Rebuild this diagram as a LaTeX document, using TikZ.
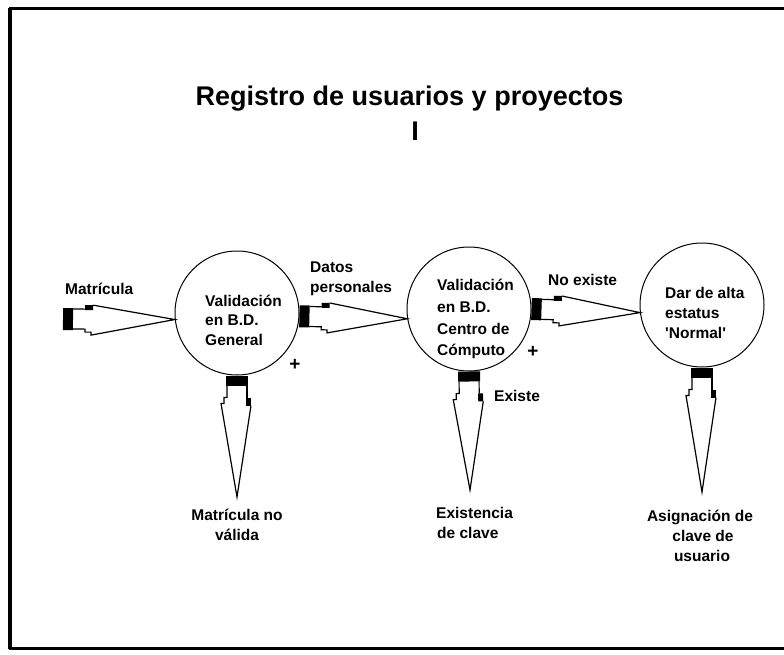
\documentclass[tikz,border=0pt]{standalone}
\usepackage{fontspec}
\setmainfont{Liberation Sans}[Ligatures=TeXOff]
\usetikzlibrary{calc}
\tikzset{
  proc/.style={circle, draw, line width=1pt, minimum size=124pt, inner sep=0pt},
  lbl/.style={font=\bfseries\fontsize{15.5}{20}\selectfont, inner sep=0pt},
  lblw/.style={lbl, anchor=base west},
  lblc/.style={lbl, anchor=base},
  plus/.style={font=\bfseries\fontsize{19}{20}\selectfont, inner sep=0pt},
  ttl/.style={font=\bfseries\fontsize{27}{32}\selectfont, inner sep=0pt, anchor=base},
  frameline/.style={line width=3pt},
  fatline/.style={line width=1.2pt, line join=miter},
}
\newcommand\fatarrow[2]{%
  \path let \p1=(#1), \p2=(#2) in \pgfextra{%
    \pgfmathsetmacro\fa{atan2(\y2-\y1,\x2-\x1)}%
    \pgfmathsetmacro\fl{veclen(\x2-\x1,\y2-\y1)}%
    \xdef\fA{\fa}\xdef\fL{\fl}\xdef\fX{\x1}\xdef\fY{\y1}};
  \begin{scope}[shift={(\fX,\fY)}, rotate=\fA]
    \fill (0pt,-11pt) rectangle (10pt,11pt);
    \fill (22pt,9pt) rectangle (30pt,14pt);
    \draw[fatline] (10pt,10pt) -- (22pt,10pt);
    \draw[fatline] (30pt,14pt) -- (\fL pt,0pt) -- (28pt,-16pt) -- (28pt,-13pt) -- (22pt,-13pt) -- (22pt,-10pt) -- (10pt,-10pt);
  \end{scope}}
\begin{document}
\begin{tikzpicture}[x=1pt,y=-1pt]
\useasboundingbox (0,0) rectangle (784,655);
\fill[white] (0,0) rectangle (784,655);
% frame
\draw[frameline] (784,9) -- (10,9) -- (10,648) -- (784,648);
\draw[line width=4pt] (10,8) -- (10,649);
% title
\node[ttl] (title) at (409.5,106) {Registro de usuarios y proyectos};
\node[ttl] (roman) at (415,141) {I};
% processes
\node[proc] (c1) at (237,313) {};
\node[proc] (c2) at (469,309) {};
\node[proc] (c3) at (702,305) {};
\node[lblw] (c1a) at (205,306) {Validación};
\node[lblw] (c1b) at (205,325) {en B.D.};
\node[lblw] (c1c) at (205,345) {General};
\node[lblw] (c2a) at (437,290) {Validación};
\node[lblw] (c2b) at (437,312) {en B.D.};
\node[lblw] (c2c) at (437,334) {Centro de};
\node[lblw] (c2d) at (437,355) {Cómputo};
\node[lblw] (c3a) at (665,298) {Dar de alta};
\node[lblw] (c3b) at (665,318) {estatus};
\node[lblw] (c3c) at (665,338) {'Normal'};
% free ends
\coordinate (m0) at (63,319);
\coordinate (t1) at (237,497);
\coordinate (t2) at (470,490);
\coordinate (t3) at (702,492);
% connectors
\fatarrow{m0}{c1.186}
\fatarrow{c1.357}{c2.189}
\fatarrow{c2.0}{c3.187}
\fatarrow{c1.south}{t1}
\fatarrow{c2.south}{t2}
\fatarrow{c3.south}{t3}
% labels
\node[lblw] (lm) at (65,294) {Matrícula};
\node[lblw] (ld1) at (310,272) {Datos};
\node[lblw] (ld2) at (310,292) {personales};
\node[lblw] (lne) at (548,285) {No existe};
\node[lblw] (lex) at (494,401) {Existe};
\node[plus] (p1) at (295,365) {+};
\node[plus] (p2) at (533,352) {+};
\node[lblc] (b1a) at (237,520) {Matrícula no};
\node[lblc] (b1b) at (237,540) {válida};
\node[lblw] (b2a) at (436,518) {Existencia};
\node[lblw] (b2b) at (437,538) {de clave};
\node[lblc] (b3a) at (700,521) {Asignación de};
\node[lblc] (b3b) at (703,541) {clave de};
\node[lblc] (b3c) at (702,561) {usuario};
\end{tikzpicture}
\end{document}
